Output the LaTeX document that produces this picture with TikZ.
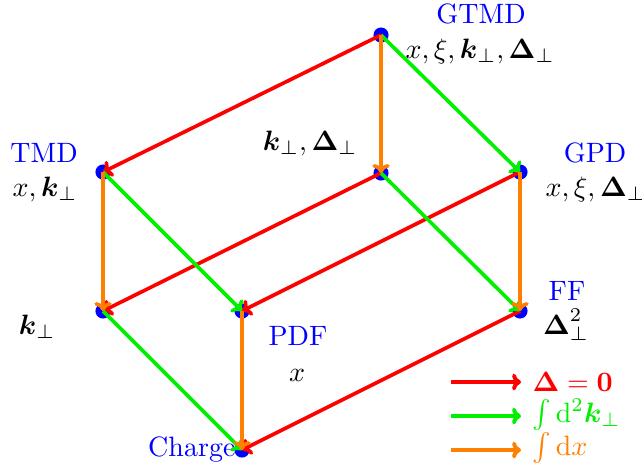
\documentclass[tikz,border=0pt]{standalone}
\usepackage{amsmath}
\usetikzlibrary{arrows.meta}
\begin{document}
\begin{tikzpicture}[x=0.3571pt,y=-0.3571pt,
  dot/.style={circle,fill=blue,inner sep=0pt,minimum size=5.4pt},
  lbl/.style={text=blue,inner sep=0pt},
  var/.style={inner sep=0pt},
  ar/.style={line width=1.3pt,-{To[length=3.2pt,width=6.2pt]}},
  rd/.style={ar,draw={rgb,255:red,255;green,0;blue,0}},
  gr/.style={ar,draw={rgb,255:red,0;green,240;blue,0}},
  og/.style={ar,draw={rgb,255:red,255;green,128;blue,0}},
  leg/.style={line width=1.4pt,-{To[length=3.2pt,width=6pt]}}]
\useasboundingbox (0,0) rectangle (642,471);
\definecolor{myred}{RGB}{255,0,0}
\definecolor{mygreen}{RGB}{0,240,0}
\definecolor{myorange}{RGB}{255,128,0}
% vertices
\node[dot] (gtmd) at (381,35) {};
\node[dot] (tmd) at (103,172) {};
\node[dot] (mid) at (381,173) {};
\node[dot] (gpd) at (520,172) {};
\node[dot] (kp) at (103,311) {};
\node[dot] (pdf) at (242,311) {};
\node[dot] (ff) at (520,311) {};
\node[dot] (ch) at (242,450) {};
% labels
\node[lbl] (tgtmd) at (481,14) {GTMD};
\node[var] (vgtmd) at (480,51) {$x,\xi,\boldsymbol{k}_\perp,\boldsymbol{\Delta}_\perp$};
\node[lbl] (ttmd) at (44,153) {TMD};
\node[var,anchor=west] (vtmd) at (12,189) {$x,\boldsymbol{k}_\perp$};
\node[lbl] (tgpd) at (595,153) {GPD};
\node[var,anchor=west] (vgpd) at (545,189) {$x,\xi,\boldsymbol{\Delta}_\perp$};
\node[var] (vmid) at (310,143) {$\boldsymbol{k}_\perp,\boldsymbol{\Delta}_\perp$};
\node[var] (vkp) at (37,327) {$\boldsymbol{k}_\perp$};
\node[lbl] (tff) at (567,291) {FF};
\node[var] (vff) at (566,325) {$\boldsymbol{\Delta}_\perp^2$};
\node[lbl] (tpdf) at (298,336) {PDF};
\node[var] (vpdf) at (297,375) {$x$};
\node[lbl,anchor=east] (tch) at (236,449) {Charge};
% edges
\draw[rd] (gtmd.center) -- (tmd.center);
\draw[rd] (mid.center) -- (kp.center);
\draw[rd] (gpd.center) -- (pdf.center);
\draw[rd] (ff.center) -- (ch.center);
\draw[gr] (gtmd.center) -- (gpd.center);
\draw[gr] (tmd.center) -- (pdf.center);
\draw[gr] (mid.center) -- (ff.center);
\draw[gr] (kp.center) -- (ch.center);
\draw[og] (gtmd.center) -- (mid.center);
\draw[og] (tmd.center) -- (kp.center);
\draw[og] (gpd.center) -- (ff.center);
\draw[og] (pdf.center) -- (ch.center);
% legend
\coordinate (l1s) at (451,382); \coordinate (l1e) at (521,382);
\coordinate (l2s) at (451,416); \coordinate (l2e) at (521,416);
\coordinate (l3s) at (451,450); \coordinate (l3e) at (521,450);
\draw[leg,myred] (l1s) -- (l1e);
\draw[leg,mygreen] (l2s) -- (l2e);
\draw[leg,myorange] (l3s) -- (l3e);
\node[var,anchor=west,text=myred] (t1) at (532,382) {$\boldsymbol{\Delta}=\mathbf{0}$};
\node[var,anchor=west,text=mygreen] (t2) at (532,415) {$\int\mathrm{d}^2\boldsymbol{k}_\perp$};
\node[var,anchor=west,text=myorange] (t3) at (532,448) {$\int\mathrm{d}x$};
\end{tikzpicture}
\end{document}
